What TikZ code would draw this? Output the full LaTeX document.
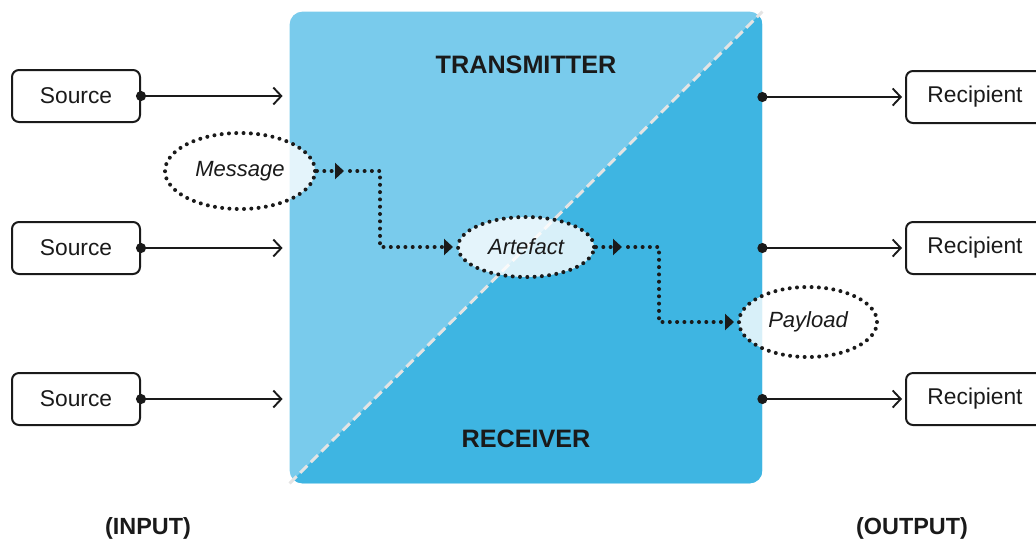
\documentclass[tikz,border=0pt]{standalone}
\usepackage{fontspec}
\setmainfont{Liberation Sans}
\usetikzlibrary{arrows.meta,shapes.geometric,positioning}

\definecolor{sendblue}{RGB}{121,203,236}
\definecolor{recvblue}{RGB}{62,181,226}
\definecolor{ink}{RGB}{26,26,26}
\definecolor{seam}{RGB}{228,228,228}

\tikzset{
    endpoint/.style={
           rectangle,
           draw=ink, line width=1pt,
           rounded corners=3.5pt,
           minimum width=64pt, minimum height=26pt,
           text=ink,
           font=\fontsize{11.4}{13}\selectfont,
           },
    blob/.style={
           ellipse,
           draw=ink, line width=2pt,
           dash pattern=on 0pt off 3.65pt, line cap=round,
           fill=white, fill opacity=0.8, text opacity=1,
           inner sep=0pt,
           text=ink,
           font=\fontsize{11}{13}\selectfont\itshape,
           },
    feed/.style={
           draw=ink, line width=0.95pt,
           {Circle[length=5pt]}-{Straight Barb[length=4pt,width=8.5pt]},
           shorten <=-2.5pt,
           },
    flow/.style={
           draw=ink, line width=2pt,
           dash pattern=on 0pt off 3.65pt, line cap=round,
           -{Triangle[length=4.5pt,width=8pt]},
           },
    head/.style={text=ink, font=\fontsize{12.6}{15}\selectfont\bfseries},
    side/.style={text=ink, font=\fontsize{11.7}{14}\selectfont\bfseries},
}

\begin{document}
\begin{tikzpicture}[x=0.5pt,y=-0.5pt]
\useasboundingbox (0,0) rectangle (1036,543);

       % the system block, split along its diagonal
       \node[inner sep=0pt, minimum width=236pt, minimum height=235.5pt] (SYSTEM) at (526,247.5) {};
       \fill[sendblue, rounded corners=6.5pt] (SYSTEM.south west) rectangle (SYSTEM.north east);
       \begin{scope}
              \clip[rounded corners=6.5pt] (SYSTEM.south west) rectangle (SYSTEM.north east);
              \fill[recvblue] (SYSTEM.south west) -- (SYSTEM.north east) |- cycle;
       \end{scope}
       \draw[seam, line width=1.5pt, dash pattern=on 5pt off 2.5pt] (SYSTEM.south west) -- (SYSTEM.north east);

       \node[head] (TX) at ([yshift=-26.5pt]SYSTEM.north) {TRANSMITTER};
       \node[head] (RX) at ([yshift=22.5pt]SYSTEM.south) {RECEIVER};

       \node[endpoint] (SOURCE1) at (76,96) {Source};
       \node[endpoint] (SOURCE2) at (76,248) {Source};
       \node[endpoint] (SOURCE3) at (76,399) {Source};

       % the recipients run off the right edge
       \node[endpoint, minimum width=69pt] (RECIPIENT1) at (975,97) {Recipient};
       \node[endpoint, minimum width=69pt] (RECIPIENT2) at (975,248) {Recipient};
       \node[endpoint, minimum width=69pt] (RECIPIENT3) at (975,399) {Recipient};

       \node[blob, minimum width=75pt, minimum height=38pt] (MESSAGE) at (240,171) {Message};
       \node[blob, minimum width=68pt, minimum height=30pt] (ARTEFACT) at (526,247) {Artefact};
       \node[blob, minimum width=69pt, minimum height=35pt] (PAYLOAD) at (808,322) {Payload};

       \node[side] (INPUT) at (148,528) {(INPUT)};
       \node[side] (OUTPUT) at (912,528) {(OUTPUT)};

       \draw[feed, shorten >=3.5pt] (SOURCE1.east) -- (SOURCE1 -| SYSTEM.west);
       \draw[feed, shorten >=3.5pt] (SOURCE2.east) -- (SOURCE2 -| SYSTEM.west);
       \draw[feed, shorten >=3.5pt] (SOURCE3.east) -- (SOURCE3 -| SYSTEM.west);

       \draw[feed, shorten >=1.5pt] (RECIPIENT1 -| SYSTEM.east) -- (RECIPIENT1.west);
       \draw[feed, shorten >=1.5pt] (RECIPIENT2 -| SYSTEM.east) -- (RECIPIENT2.west);
       \draw[feed, shorten >=1.5pt] (RECIPIENT3 -| SYSTEM.east) -- (RECIPIENT3.west);

       \draw[flow] (MESSAGE.east) -- ++(13.5pt,0) coordinate (HOP1);
       \draw[flow, shorten >=1.5pt] ([xshift=3pt]HOP1) -- ++(15pt,0) |- (ARTEFACT.west);
       \draw[flow] (ARTEFACT.east) -- ++(13pt,0) coordinate (HOP2);
       \draw[flow, shorten >=1.5pt] ([xshift=3pt]HOP2) -- ++(15.5pt,0) |- (PAYLOAD.west);

\end{tikzpicture}
\end{document}
